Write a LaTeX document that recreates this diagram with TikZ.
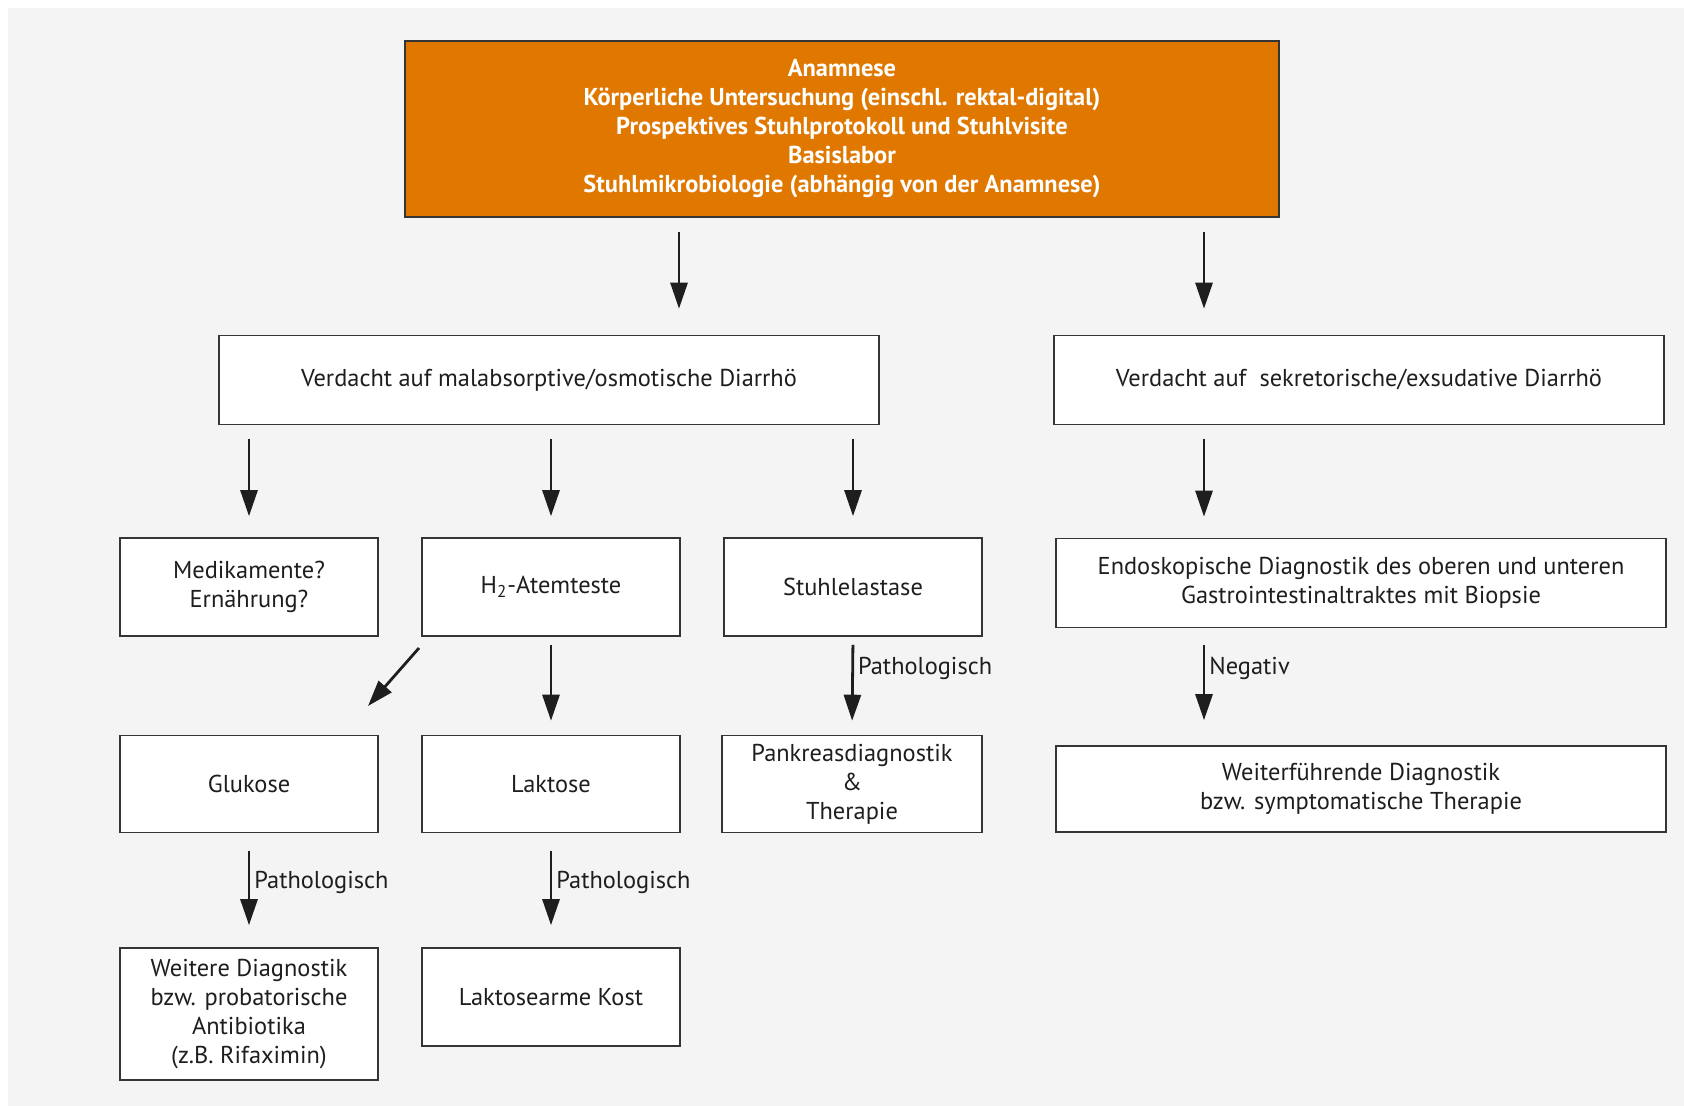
\documentclass[tikz,border=0pt]{standalone}
\usepackage{fontspec}
\setmainfont{PT Sans}
\usetikzlibrary{arrows.meta}
\definecolor{bggray}{HTML}{F4F4F4}
\definecolor{orangebox}{HTML}{E07800}
\definecolor{ink}{HTML}{1E1E1E}
\begin{document}
\begin{tikzpicture}[x=0.5pt,y=-0.5pt,
  box/.style={rectangle,draw=ink!90,line width=0.8pt,fill=white,text=ink,align=center,
    font=\fontsize{12.2}{14.5}\selectfont,inner sep=0pt},
  topbox/.style={box,fill=orangebox,text=white,font=\fontsize{12.2}{14.5}\selectfont\bfseries},
  arr/.style={-{Triangle[length=13pt,width=8.5pt]},line width=1.4pt,draw=ink},
  lbl/.style={right,text=ink,font=\fontsize{12.2}{14.5}\selectfont,inner sep=2pt}]

  \useasboundingbox (0,0) rectangle (1684,1106);
  \fill[bggray] (8,8) rectangle (1684,1106);

  \node[topbox,minimum width=437pt,minimum height=88pt] (top) at (842,129)
    {Anamnese\\Körperliche Untersuchung (einschl. rektal-digital)\\Prospektives Stuhlprotokoll und Stuhlvisite\\Basislabor\\Stuhlmikrobiologie (abhängig von der Anamnese)};

  \node[box,minimum width=330pt,minimum height=44.5pt] (mal) at (549,380) {Verdacht auf malabsorptive/osmotische Diarrhö};
  \node[box,minimum width=305pt,minimum height=44.5pt] (sek) at (1359,380) {Verdacht auf~ sekretorische/exsudative Diarrhö};

  \node[box,minimum width=129pt,minimum height=49pt] (med) at (249,587) {Medikamente?\\Ernährung?};
  \node[box,minimum width=129pt,minimum height=49pt] (hzwei) at (551,587) {H\textsubscript{2}-Atemteste};
  \node[box,minimum width=129pt,minimum height=49pt] (elast) at (853,587) {Stuhlelastase};
  \node[box,minimum width=305pt,minimum height=44.5pt] (endo) at (1361,583)
    {Endoskopische Diagnostik des oberen und unteren\\Gastrointestinaltraktes mit Biopsie};

  \node[box,minimum width=129pt,minimum height=48.5pt] (glu) at (249,784) {Glukose};
  \node[box,minimum width=129pt,minimum height=48.5pt] (lak) at (551,784) {Laktose};
  \node[box,minimum width=130pt,minimum height=48.5pt] (pank) at (852,784) {Pankreasdiagnostik\\\&\\Therapie};
  \node[box,minimum width=305pt,minimum height=43pt] (weiter) at (1361,789)
    {Weiterführende Diagnostik\\bzw. symptomatische Therapie};

  \node[box,minimum width=129pt,minimum height=66pt] (wdiag) at (249,1014)
    {Weitere Diagnostik\\bzw. probatorische\\Antibiotika\\(z.B. Rifaximin)};
  \node[box,minimum width=129pt,minimum height=49pt] (lkost) at (551,997) {Laktosearme Kost};

  \coordinate (lcol) at (679,0);
  \coordinate (rcol) at (1204,0);
  \coordinate (dga) at (419,648);
  \coordinate (dgb) at (368,706);

  \draw[arr,shorten <=7pt,shorten >=13pt] (top.south -| lcol) -- (mal.north -| lcol);
  \draw[arr,shorten <=7pt,shorten >=13pt] (top.south -| rcol) -- (sek.north -| rcol);

  \draw[arr,shorten <=7pt,shorten >=10.5pt] (mal.south -| med) -- (med.north);
  \draw[arr,shorten <=7pt,shorten >=10.5pt] (mal.south -| hzwei) -- (hzwei.north);
  \draw[arr,shorten <=7pt,shorten >=10.5pt] (mal.south -| elast) -- (elast.north);
  \draw[arr,shorten <=7pt,shorten >=10.5pt] (sek.south -| rcol) -- (endo.north -| rcol);

  \draw[arr] (dga) -- (dgb);
  \draw[arr,shorten <=4pt,shorten >=7pt] (hzwei.south) -- (lak.north);
  \draw[arr,shorten <=4pt,shorten >=7pt] (elast.south) -- node[lbl,pos=0.32] {Pathologisch} (pank.north);
  \draw[arr,shorten <=8.5pt,shorten >=12.5pt] (endo.south -| rcol) -- node[lbl,pos=0.34] {Negativ} (weiter.north -| rcol);

  \draw[arr,shorten <=9pt,shorten >=11pt] (glu.south) -- node[lbl,pos=0.43] {Pathologisch} (wdiag.north);
  \draw[arr,shorten <=9pt,shorten >=11pt] (lak.south) -- node[lbl,pos=0.43] {Pathologisch} (lkost.north);

\end{tikzpicture}
\end{document}
